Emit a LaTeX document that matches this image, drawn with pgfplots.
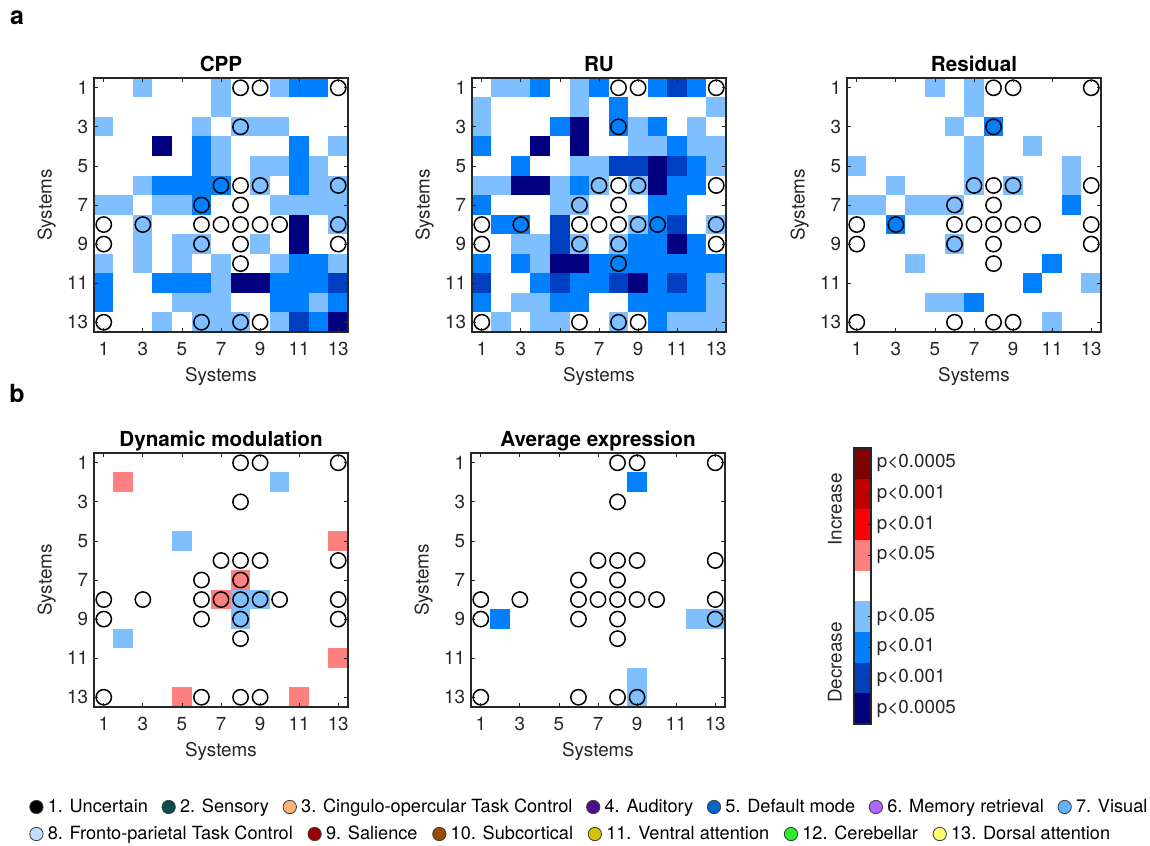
\documentclass[border=0pt]{standalone}
\usepackage{fontspec}
\setmainfont{TeX Gyre Heros}
\usepackage{pgfplots}
\usepackage{pgfplotstable}
\pgfplotsset{compat=1.18}

\definecolor{axgray}{RGB}{38,38,38}
% significance levels
\definecolor{dec4}{RGB}{0,0,128}
\definecolor{dec3}{RGB}{0,64,192}
\definecolor{dec2}{RGB}{0,128,255}
\definecolor{dec1}{RGB}{128,191,255}
\definecolor{inc1}{RGB}{255,128,128}
\definecolor{inc2}{RGB}{255,0,0}
\definecolor{inc3}{RGB}{192,0,0}
\definecolor{inc4}{RGB}{128,0,0}
% system colours
\definecolor{sysA}{RGB}{0,0,0}
\definecolor{sysB}{RGB}{10,78,75}
\definecolor{sysC}{RGB}{255,178,118}
\definecolor{sysD}{RGB}{76,16,140}
\definecolor{sysE}{RGB}{0,102,204}
\definecolor{sysF}{RGB}{178,102,255}
\definecolor{sysG}{RGB}{102,178,255}
\definecolor{sysH}{RGB}{191,223,255}
\definecolor{sysI}{RGB}{153,0,0}
\definecolor{sysJ}{RGB}{153,76,0}
\definecolor{sysK}{RGB}{210,195,0}
\definecolor{sysL}{RGB}{45,235,45}
\definecolor{sysM}{RGB}{255,255,110}

\newcommand\ticksize{\fontsize{11.3}{13.5}\selectfont}
\newcommand\legsize{\fontsize{10.9}{13}\selectfont}

\pgfplotsset{
  sysmat/.style={
    scale only axis, width=152.4pt, height=152.4pt,
    xmin=0.5, xmax=13.5, ymin=0.5, ymax=13.5, y dir=reverse,
    enlargelimits=false, axis on top, clip marker paths=true,
    xtick={1,3,...,13}, ytick={1,3,...,13},
    tick pos=both, xticklabel pos=lower, yticklabel pos=left,
    tick align=inside, major tick length=2.4pt,
    every tick/.style={axgray, line width=0.5pt},
    axis line style={axgray, line width=0.8pt},
    tick label style={font=\ticksize, text=axgray},
    xticklabel style={yshift=-2.6pt},
    label style={font=\ticksize, text=axgray},
    xlabel={Systems}, ylabel={Systems},
    title style={font=\fontsize{12.4}{14.5}\selectfont\bfseries,
      anchor=base, yshift=-1.9pt},
    /pgf/number format/assume math mode=true,
  },
  % one square cell per matrix entry, filled by its level (-4..4)
  cells/.style={scatter, only marks, mark=square*, mark size=5.87pt,
    point meta=explicit symbolic,
    scatter/@pre marker code/.code={%
      \ifcase\numexpr\pgfplotspointmeta+4\relax
        \def\cellcol{dec4}\or\def\cellcol{dec3}\or\def\cellcol{dec2}\or
        \def\cellcol{dec1}\or\def\cellcol{white}\or\def\cellcol{inc1}\or
        \def\cellcol{inc2}\or\def\cellcol{inc3}\or\def\cellcol{inc4}\else
        \def\cellcol{white}\fi
      \scope[draw=\cellcol, fill=\cellcol, line width=0.2pt]},
    scatter/@post marker code/.code={\endscope}},
  rings/.style={scatter=false, point meta=none,
    scatter/@pre marker code/.code={}, scatter/@post marker code/.code={},
    only marks, mark=o, mark size=4.6pt, black,
    mark options={line width=0.9pt, draw=black, fill=none}},
  sysmark/.style={legend image code/.code={%
    \draw[fill=#1, draw=black!75, line width=0.5pt] (4pt,0pt) circle[radius=4pt];}},
  syslegend/.style={scale only axis, anchor=west,
    width=10pt, height=10pt, hide axis, xmin=0, xmax=1, ymin=0, ymax=1,
    legend columns=-1, legend cell align=left,
    legend style={at={(0,0.5)}, anchor=west, draw=none, fill=none,
      inner sep=0pt, font=\legsize, nodes={inner xsep=0pt},
      /tikz/every odd column/.append style={column sep=2.6pt},
      /tikz/every even column/.append style={column sep=#1}}},
}

% 13x13 matrices: row i = system i, column j = system j
\pgfplotstableread[header=false]{
0 0 -1 0 0 0 -1 0 0 -1 -2 -2 0
0 0 0 0 0 0 -1 0 0 0 0 0 0
-1 0 0 0 0 -1 0 -1 -1 -1 0 0 0
0 0 0 -4 0 -2 -1 0 0 0 -2 0 -1
0 0 0 0 0 -2 -1 0 -1 -1 -2 -1 0
0 0 -1 -2 -2 -2 -2 0 -1 0 -2 -1 -1
-1 -1 0 -1 -1 -2 0 0 0 -1 -1 -1 -1
0 0 -1 0 0 0 0 0 0 0 -4 0 -1
0 0 -1 0 -1 -1 0 0 -1 0 -4 0 0
-1 0 -1 0 -1 0 -1 0 0 -1 -2 -2 -1
-2 0 0 -2 -2 -2 -1 -4 -4 -2 -2 -2 -3
-2 0 0 0 -1 -1 -1 0 0 -2 -2 -1 -2
0 0 0 -1 0 -1 -1 -1 0 -1 -3 -2 -4
}\cppdata

\pgfplotstableread[header=false]{
0 -1 -1 -2 0 -1 -2 0 0 -2 -3 -2 0
-1 0 0 0 0 -1 0 -2 0 0 0 0 -1
-1 0 0 0 -2 -4 0 -2 -1 -2 0 -1 0
-2 0 0 -4 0 -4 0 0 -1 -1 -2 -1 -1
0 0 -2 0 0 -1 -1 -3 -3 -4 -3 -2 -1
-1 -1 -4 -4 -1 -2 -1 0 -1 -4 -2 -2 0
-2 0 0 0 -1 -1 0 0 0 -2 -2 0 0
0 -2 -2 0 -3 0 0 0 -1 -2 -3 0 -1
0 0 -1 -1 -3 -1 0 -1 -2 -2 -4 -2 0
-2 0 -2 -1 -4 -4 -2 -2 -2 -2 -2 -2 -2
-3 0 0 -2 -3 -2 -2 -3 -4 -2 -3 -2 -1
-2 0 -1 -1 -2 -2 0 0 -2 -2 -2 -2 -1
0 -1 0 -1 -1 0 0 -1 0 -2 -1 -1 -1
}\rudata

\pgfplotstableread[header=false]{
0 0 0 0 -1 0 -1 0 0 0 0 0 0
0 0 0 0 0 0 -1 0 0 0 0 0 0
0 0 0 0 0 -1 0 -2 0 0 0 0 0
0 0 0 0 0 0 -1 0 0 -1 0 0 0
-1 0 0 0 0 0 -1 0 0 0 0 -1 0
0 0 -1 0 0 0 -1 0 -1 0 0 -1 0
-1 -1 0 -1 -1 -1 0 0 0 0 0 -2 0
0 0 -2 0 0 0 0 0 0 0 0 0 0
0 0 0 0 0 -1 0 0 0 0 0 0 0
0 0 0 -1 0 0 0 0 0 0 -2 0 0
0 0 0 0 0 0 0 0 0 -2 0 0 -1
0 0 0 0 -1 -1 -2 0 0 0 0 0 0
0 0 0 0 0 0 0 0 0 0 -1 0 0
}\resdata

\pgfplotstableread[header=false]{
0 0 0 0 0 0 0 0 0 0 0 0 0
0 1 0 0 0 0 0 0 0 -1 0 0 0
0 0 0 0 0 0 0 0 0 0 0 0 0
0 0 0 0 0 0 0 0 0 0 0 0 0
0 0 0 0 -1 0 0 0 0 0 0 0 1
0 0 0 0 0 0 0 0 0 0 0 0 0
0 0 0 0 0 0 0 1 0 0 0 0 0
0 0 0 0 0 0 1 -1 -1 0 0 0 0
0 0 0 0 0 0 0 -1 0 0 0 0 0
0 -1 0 0 0 0 0 0 0 0 0 0 0
0 0 0 0 0 0 0 0 0 0 0 0 1
0 0 0 0 0 0 0 0 0 0 0 0 0
0 0 0 0 1 0 0 0 0 0 1 0 0
}\dyndata

\pgfplotstableread[header=false]{
0 0 0 0 0 0 0 0 0 0 0 0 0
0 0 0 0 0 0 0 0 -2 0 0 0 0
0 0 0 0 0 0 0 0 0 0 0 0 0
0 0 0 0 0 0 0 0 0 0 0 0 0
0 0 0 0 0 0 0 0 0 0 0 0 0
0 0 0 0 0 0 0 0 0 0 0 0 0
0 0 0 0 0 0 0 0 0 0 0 0 0
0 0 0 0 0 0 0 0 0 0 0 0 0
0 -2 0 0 0 0 0 0 0 0 0 -1 -1
0 0 0 0 0 0 0 0 0 0 0 0 0
0 0 0 0 0 0 0 0 0 0 0 0 0
0 0 0 0 0 0 0 0 -1 0 0 0 0
0 0 0 0 0 0 0 0 -1 0 0 0 0
}\avgdata

% system pairs marked with a ring (x = column, y = row)
\pgfplotstableread{
x y
8 1
9 1
13 1
8 3
7 6
8 6
9 6
13 6
6 7
8 7
1 8
3 8
6 8
7 8
8 8
9 8
10 8
13 8
1 9
6 9
8 9
13 9
8 10
1 13
6 13
8 13
9 13
}\ringdata

\newcommand\cellplot[1]{%
  \pgfplotsinvokeforeach{0,...,12}{%
    \addplot[cells] table[x expr={##1+1}, y expr={\coordindex+1},
      meta index=##1] {#1};}
  \addplot[rings] table[x=x, y=y] {\ringdata};}

\begin{document}
\begin{tikzpicture}
\path[use as bounding box] (0pt,0pt) rectangle (690pt,-507pt);

\node[font=\fontsize{15}{18}\selectfont\bfseries] at (10.2pt,-10.8pt) {a};
\node[font=\fontsize{15}{18}\selectfont\bfseries] at (10.2pt,-235.8pt) {b};

\begin{axis}[sysmat, at={(56.4pt,-46.8pt)}, anchor=north west, title={CPP}]
\cellplot{\cppdata}
\end{axis}

\begin{axis}[sysmat, at={(283.2pt,-46.8pt)}, anchor=north west, title={RU}]
\cellplot{\rudata}
\end{axis}

\begin{axis}[sysmat, at={(508.2pt,-46.8pt)}, anchor=north west, title={Residual}]
\cellplot{\resdata}
\end{axis}

\begin{axis}[sysmat, at={(56.4pt,-271.8pt)}, anchor=north west, title={Dynamic modulation}]
\cellplot{\dyndata}
\end{axis}

\begin{axis}[sysmat, at={(282.6pt,-271.8pt)}, anchor=north west, title={Average expression}]
\cellplot{\avgdata}
\end{axis}

% significance scale
\begin{axis}[at={(512.4pt,-268.8pt)}, anchor=north west,
  scale only axis, width=10.2pt, height=165.6pt,
  xmin=0, xmax=1, ymin=-4.5, ymax=4.5, enlargelimits=false,
  axis on top, clip=false,
  xtick=\empty, ytick={-4,-3,-2,-1,1,2,3,4},
  yticklabels={p<0.0005,p<0.001,p<0.01,p<0.05,p<0.05,p<0.01,p<0.001,p<0.0005},
  ytick pos=right, yticklabel pos=right,
  tick align=inside, major tick length=2pt,
  every tick/.style={axgray, line width=0.6pt},
  axis line style={axgray, line width=0.8pt},
  tick label style={font=\ticksize, text=axgray}]
\addplot[draw=none, fill=dec4] coordinates {(0,-4.5) (1,-4.5) (1,-3.5) (0,-3.5)} --cycle;
\addplot[draw=none, fill=dec3] coordinates {(0,-3.5) (1,-3.5) (1,-2.5) (0,-2.5)} --cycle;
\addplot[draw=none, fill=dec2] coordinates {(0,-2.5) (1,-2.5) (1,-1.5) (0,-1.5)} --cycle;
\addplot[draw=none, fill=dec1] coordinates {(0,-1.5) (1,-1.5) (1,-0.5) (0,-0.5)} --cycle;
\addplot[draw=none, fill=inc1] coordinates {(0,0.5) (1,0.5) (1,1.5) (0,1.5)} --cycle;
\addplot[draw=none, fill=inc2] coordinates {(0,1.5) (1,1.5) (1,2.5) (0,2.5)} --cycle;
\addplot[draw=none, fill=inc3] coordinates {(0,2.5) (1,2.5) (1,3.5) (0,3.5)} --cycle;
\addplot[draw=none, fill=inc4] coordinates {(0,3.5) (1,3.5) (1,4.5) (0,4.5)} --cycle;
\node[rotate=90, font=\ticksize, text=axgray] at (axis cs:-1.12,2.5) {Increase};
\node[rotate=90, font=\ticksize, text=axgray] at (axis cs:-1.12,-2.5) {Decrease};
\end{axis}

% system legend, first row
\begin{axis}[syslegend=8.2pt, at={(17.4pt,-484.2pt)}]
\addlegendimage{sysmark=sysA}\addlegendentry{1. Uncertain}
\addlegendimage{sysmark=sysB}\addlegendentry{2. Sensory}
\addlegendimage{sysmark=sysC}\addlegendentry{3. Cingulo-opercular Task Control}
\addlegendimage{sysmark=sysD}\addlegendentry{4. Auditory}
\addlegendimage{sysmark=sysE}\addlegendentry{5. Default mode}
\addlegendimage{sysmark=sysF}\addlegendentry{6. Memory retrieval}
\addlegendimage{sysmark=sysG}\addlegendentry{7. Visual}
\end{axis}

% system legend, second row
\begin{axis}[syslegend=8.8pt, at={(17.4pt,-500.4pt)}]
\addlegendimage{sysmark=sysH}\addlegendentry{8. Fronto-parietal Task Control}
\addlegendimage{sysmark=sysI}\addlegendentry{9. Salience}
\addlegendimage{sysmark=sysJ}\addlegendentry{10. Subcortical}
\addlegendimage{sysmark=sysK}\addlegendentry{11. Ventral attention}
\addlegendimage{sysmark=sysL}\addlegendentry{12. Cerebellar}
\addlegendimage{sysmark=sysM}\addlegendentry{13. Dorsal attention}
\end{axis}
\end{tikzpicture}
\end{document}
